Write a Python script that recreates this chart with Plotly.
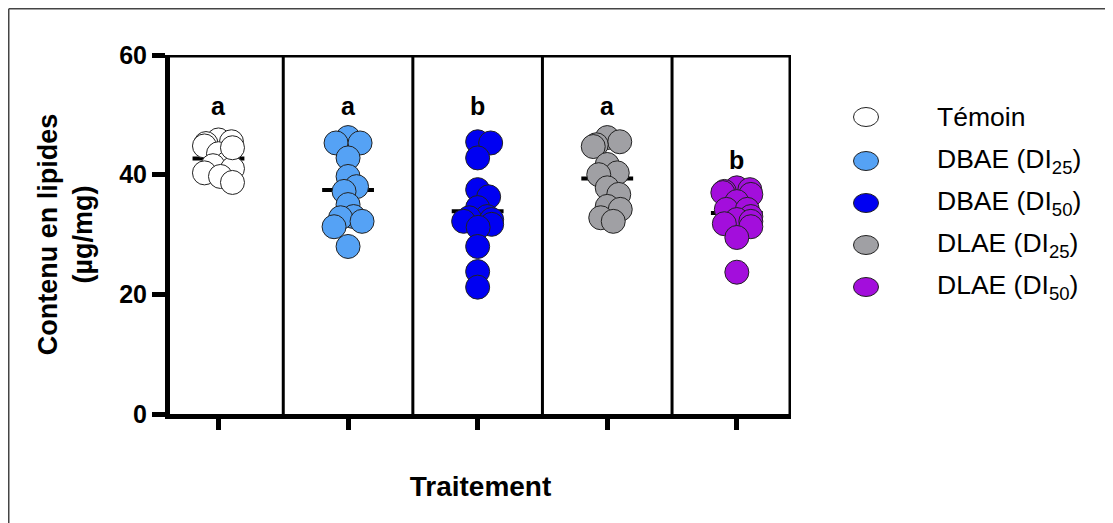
import plotly.graph_objects as go
import numpy as np

names = ["Témoin", "DBAE (DI", "DBAE (DI", "DLAE (DI", "DLAE (DI"]
subs = ["", "25", "50", "25", "50"]
temoin = [45.8, 45.5, 45.2, 44.8, 43.5, 42.0, 41.5, 41.0, 40.3, 39.7, 38.7, 44.5]
dbae_25 = [46.2, 45.3, 45.3, 42.8, 39.7, 38.0, 37.2, 35.0, 33.0, 32.8, 32.2, 31.3, 28.0]
dbae_50 = [45.5, 45.3, 42.8, 37.5, 36.3, 34.5, 33.0, 32.8, 32.5, 32.2, 31.7, 31.2, 28.0, 23.8, 21.2]
dlae_25 = [46.2, 45.5, 45.0, 44.7, 41.7, 40.3, 40.0, 37.8, 36.7, 34.7, 34.2, 32.8, 32.2]
dlae_50 = [37.8, 37.5, 37.2, 37.0, 36.7, 35.5, 34.2, 34.2, 33.0, 32.5, 32.2, 31.8, 31.3, 29.5, 23.7]
series = [temoin, dbae_25, dbae_50, dlae_25, dlae_50]
colors = ["#FFFFFF", "#55A2F5", "#0000F2", "#A0A0A4", "#A30EDC"]
letters = ["a", "a", "b", "a", "b"]
letter_y = [51.5, 51.5, 51.5, 51.5, 42.4]
y_ticks = [0, 20, 40, 60]

FONT = "Liberation Sans, Arial, sans-serif"
# figure geometry in pixels (page has an 8px body margin)
W, H = 1105, 515
L, T = 162, 47
PW, PH = 621, 359
R, B = W - L - PW, H - T - PH
XR = [-0.374, 4.418]
PX_PER_X = PW / (XR[1] - XR[0])
PX_PER_Y = PH / 60.0
DMIN = 13.0
MAXOFF = 14.0


def beeswarm(vals):
    order = np.argsort(vals)[::-1]
    placed = []
    offs = np.zeros(len(vals))
    cands = [0.0]
    for k in range(1, int(MAXOFF * 2) + 1):
        cands += [k * 0.5, -k * 0.5]
    for i in order:
        yp = vals[i] * PX_PER_Y
        best = None
        for c in cands:
            if all((c - xo) ** 2 + (yp - yo) ** 2 >= DMIN ** 2 for (xo, yo) in placed):
                best = c
                break
        if best is None:
            best = cands[-1] if len(placed) % 2 else cands[-2]
        placed.append((best, yp))
        offs[i] = best / PX_PER_X
    return offs


def label(i, sub_size=None):
    if not subs[i]:
        return names[i]
    if sub_size:
        return "%s<sub style='font-size:%dpx'>%s</sub>)" % (names[i], sub_size, subs[i])
    return "%s<sub>%s</sub>)" % (names[i], subs[i])


fig = go.Figure()
# mean lines (behind the points)
for i, vals in enumerate(series):
    m = float(np.mean(vals))
    fig.add_trace(go.Scatter(
        x=[i - 0.2, i + 0.2], y=[m, m], mode="lines", showlegend=False,
        line=dict(color="black", width=4), hoverinfo="skip",
    ))
for i, (vals, col) in enumerate(zip(series, colors)):
    vals = np.array(vals)
    offs = beeswarm(vals)
    fig.add_trace(go.Scatter(
        x=i + offs, y=vals, mode="markers", name=label(i), showlegend=False,
        marker=dict(size=24, color=col, line=dict(color="#222222", width=1)),
    ))
for i in range(5):
    fig.add_annotation(x=i, y=letter_y[i], text="<b>%s</b>" % letters[i], showarrow=False,
                       font=dict(size=25, color="black", family=FONT))

# separators and frame
for k in range(4):
    fig.add_shape(type="line", x0=k + 0.5, x1=k + 0.5, y0=0, y1=60, xref="x", yref="y",
                  line=dict(color="black", width=3))
fig.add_shape(type="line", x0=XR[0], x1=XR[1], y0=60, y1=60, xref="x", yref="y",
              line=dict(color="black", width=5))
fig.add_shape(type="line", x0=XR[1], x1=XR[1], y0=0, y1=60, xref="x", yref="y",
              line=dict(color="black", width=5))


def px_x(fx):
    return (fx - L) / PW


def px_y(fy):
    return 1 - (fy - T) / PH


# outer image border (top and left)
fig.add_shape(type="line", x0=px_x(0.75), x1=px_x(W), y0=px_y(0.75), y1=px_y(0.75),
              xref="paper", yref="paper", line=dict(color="#444444", width=1.5))
fig.add_shape(type="line", x0=px_x(0.75), x1=px_x(0.75), y0=px_y(0.75), y1=px_y(H),
              xref="paper", yref="paper", line=dict(color="#444444", width=1.5))

# legend (manual)
leg_y = [109, 153, 195, 237, 279]
for i, (col, ly) in enumerate(zip(colors, leg_y)):
    fig.add_shape(type="circle", xref="paper", yref="paper",
                  xsizemode="pixel", ysizemode="pixel",
                  xanchor=px_x(858), yanchor=px_y(ly),
                  x0=-12.5, x1=12.5, y0=-9.5, y1=9.5,
                  fillcolor=col, line=dict(color="#222222", width=1))
    fig.add_annotation(xref="paper", yref="paper", x=px_x(927), y=px_y(ly),
                       xanchor="left", yanchor="middle", text=label(i, 20), showarrow=False,
                       font=dict(size=26.5, color="black", family=FONT))

fig.update_layout(
    width=W, height=H,
    margin=dict(l=L, r=R, t=T, b=B),
    paper_bgcolor="white", plot_bgcolor="white",
    font=dict(family=FONT, color="black"),
    xaxis=dict(range=XR, tickvals=list(range(5)), showticklabels=False,
               showline=True, linecolor="black", linewidth=5, ticks="outside",
               ticklen=11, tickwidth=5, tickcolor="black", showgrid=False, zeroline=False,
               title=dict(text="<b>Traitement</b>", font=dict(size=28), standoff=49)),
    yaxis=dict(range=[0, 60], tickvals=y_ticks, ticktext=["<b>%d</b>" % v for v in y_ticks],
               tickfont=dict(size=25), showline=True, linecolor="black", linewidth=5,
               ticks="outside", ticklen=13, tickwidth=5, tickcolor="black",
               showgrid=False, zeroline=False,
               title=dict(text="<b>Contenu en lipides<br>(µg/mg)</b>", font=dict(size=27), standoff=20)),
    showlegend=False,
)
fig.write_html("out.html")
